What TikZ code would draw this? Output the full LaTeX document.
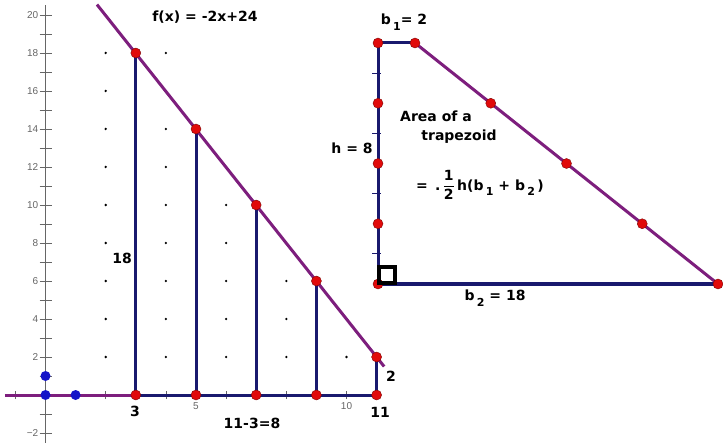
\documentclass[tikz,border=0pt]{standalone}
\usepackage{amsmath}
\usepackage{fontspec}
\usepackage{tikz}
\usepackage{xcolor}
\setmainfont{DejaVu Sans}
\newfontfamily\tickfont{Liberation Sans}
\usetikzlibrary{calc,positioning}

\definecolor{linepurple}{RGB}{125,30,125}
\definecolor{segnavy}{RGB}{25,25,110}
\definecolor{ptred}{RGB}{225,10,10}
\definecolor{ptblue}{RGB}{20,20,200}
\newcommand{\subdn}[1]{\raisebox{-0.4em}{\fontsize{11}{11}\selectfont #1}}

\begin{document}
\begin{tikzpicture}[x=1pt,y=1pt,
  lbl/.style={font=\bfseries\fontsize{14}{16}\selectfont,align=center,inner sep=1pt},
  ticklbl/.style={font=\tickfont\fontsize{10}{11}\selectfont,text=black!60,inner sep=1pt},
  reddot/.style={circle,fill=ptred,draw=ptred!55!black,inner sep=0pt,minimum size=10pt},
  bluedot/.style={circle,fill=ptblue,inner sep=0pt,minimum size=10pt},
  griddot/.style={circle,fill=black,inner sep=0pt,minimum size=2.6pt}]
  \useasboundingbox[fill=white] (0,0) rectangle (723,445);

  \begin{scope}[shift={(45.5pt,50pt)},x=30.1pt,y=19pt]
    \foreach \y in {-2,...,20} \draw[black!60,line width=0.8pt] (0,\y) ++(-6pt,0) -- ++(12pt,0);
    \foreach \x in {-1,...,10} \draw[black!60,line width=0.8pt] (\x,0) ++(0,-4pt) -- ++(0,8pt);
    \draw[black!60,line width=1pt] (0,-2.5) -- (0,20.55);
    \foreach \y in {2,4,...,20} \node[ticklbl,left=6pt] (ylab\y) at (0,\y) {\y};
    \node[ticklbl,left=6pt] (ylabm2) at (0,-2) {−2};
    \node[ticklbl,below=6pt] (xlab5) at (5,0) {5};
    \node[ticklbl,below=6pt] (xlab10) at (10,0) {10};

    \foreach \y in {2,4,...,18} \node[griddot] (ga\y) at (2,\y) {};
    \foreach \y in {2,4,...,14,18} \node[griddot] (gb\y) at (4,\y) {};
    \foreach \y in {2,4,...,10} \node[griddot] (gc\y) at (6,\y) {};
    \foreach \y in {2,4,6} \node[griddot] (gd\y) at (8,\y) {};
    \node[griddot] (ge2) at (10,2) {};

    \draw[linepurple,line width=3pt] (-1.35,0) -- (3,0);
    \draw[segnavy,line width=3pt] (3,0) -- (11.15,0);
    \draw[linepurple,line width=3pt] (1.71,20.55) -- (11.25,1.5);
    \foreach \x in {3,5,7,9,11} {
      \pgfmathtruncatemacro{\fx}{24-2*\x}
      \coordinate (base\x) at (\x,0);
      \coordinate (top\x) at (\x,\fx);
      \draw[segnavy,line width=3pt] (base\x) -- (top\x);
      \node[reddot] (pb\x) at (base\x) {};
      \node[reddot] (pt\x) at (top\x) {};
    }
    \node[bluedot] (origin) at (0,0) {};
    \node[bluedot] (unity) at (0,1) {};
    \node[bluedot] (unitx) at (1,0) {};
  \end{scope}

  \node[lbl] (fx) at (205,428) {f(x) = -2x+24};
  \node[lbl] (len18) at (122,187) {18};
  \node[lbl] (x3) at (135,34) {3};
  \node[lbl] (diff) at (252,22) {11-3=8};
  \node[lbl] (x11) at (380,33) {11};
  \node[lbl] (y2) at (391,69) {2};

  \coordinate (A) at (378,402);
  \coordinate (B) at (415,402);
  \coordinate (C) at (718,161);
  \coordinate (D) at (378,161);
  \foreach \k in {1,...,4} \draw[segnavy,line width=0.9pt] ($(A)!{(\k-0.5)/4}!(D)$) ++(-6pt,0) -- ++(9pt,0);
  \draw[segnavy,line width=3pt] (D) -- (A) -- (B);
  \draw[segnavy,line width=3pt] (D) -- (C);
  \draw[linepurple,line width=3pt] (B) -- (C);
  \foreach \k in {0,...,4} {
    \node[reddot] (h\k) at ($(A)!{\k/4}!(D)$) {};
    \node[reddot] (s\k) at ($(B)!{\k/4}!(C)$) {};
  }
  \draw[black,line width=3.5pt] (D) ++(1,1) rectangle ++(16,16);

  \node[lbl] (b1) at (404,423) {b\,\subdn{1}= 2};
  \node[lbl] (hgt) at (352,297) {h = 8};
  \node[lbl] (area) at (436,329) {Area of a};
  \node[lbl] (trap) at (459,308) {trapezoid};
  \node[lbl] (formula) at (480,260) {= \,.\,$\dfrac{\text{1}}{\text{2}}$\,h(b\,\subdn{1} + b\,\subdn{2}\,)};
  \node[lbl] (b2) at (495,147) {b\,\subdn{2} = 18};
\end{tikzpicture}
\end{document}
